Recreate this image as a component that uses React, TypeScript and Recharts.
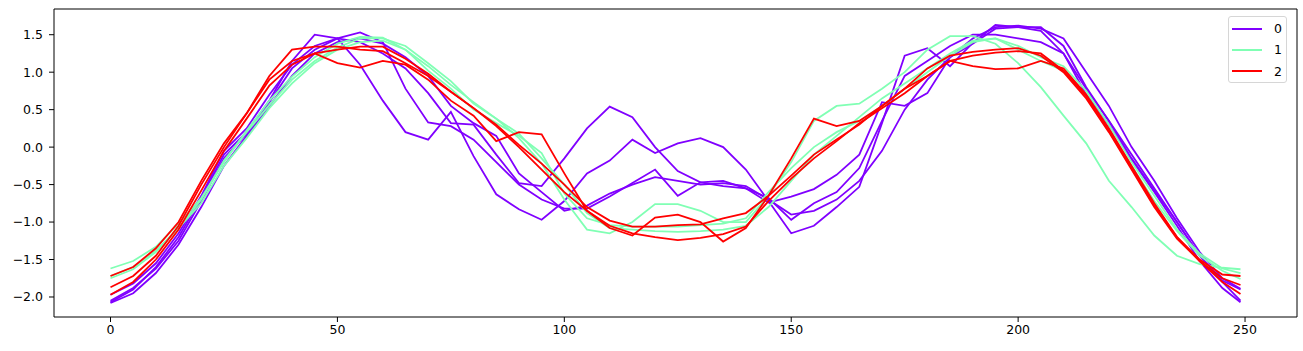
import { LineChart, Line, XAxis, YAxis } from 'recharts';

// sample positions along the series (read every 5 steps off the reference)
const xs = [
  0, 5, 10, 15, 20, 25, 30, 35, 40, 45, 50, 55, 60, 65, 70, 75, 80, 85, 90, 95,
  100, 105, 110, 115, 120, 125, 130, 135, 140, 145, 150, 155, 160, 165, 170, 175, 180, 185, 190, 195,
  200, 205, 210, 215, 220, 225, 230, 235, 240, 245, 249,
];

// class 0 (purple)
const purpleA = [
  -2.07, -1.9, -1.6, -1.2, -0.68, -0.1, 0.2, 0.62, 1.15, 1.5, 1.45, 1.1, 0.62, 0.2, 0.1, 0.47, -0.12, -0.63, -0.83, -0.97,
  -0.72, -0.35, -0.18, 0.1, -0.08, 0.05, 0.12, 0.0, -0.3, -0.72, -1.15, -1.05, -0.8, -0.53, 0.32, 1.22, 1.32, 1.08, 1.39, 1.63,
  1.6, 1.55, 1.25, 0.7, 0.3, -0.17, -0.6, -1.05, -1.52, -1.88, -2.07,
];
const purpleB = [
  -2.05, -1.88, -1.62, -1.25, -0.72, -0.15, 0.18, 0.6, 1.05, 1.3, 1.45, 1.53, 1.4, 0.78, 0.33, 0.28, 0.1, -0.2, -0.5, -0.7,
  -0.82, -0.82, -0.66, -0.48, -0.3, -0.65, -0.47, -0.52, -0.55, -0.68, -0.97, -0.75, -0.6, -0.28, 0.35, 0.95, 1.15, 1.35, 1.5, 1.5,
  1.45, 1.4, 1.25, 0.78, 0.35, -0.1, -0.55, -1.0, -1.45, -1.8, -2.05,
];
const purpleC = [
  -1.97, -1.82, -1.55, -1.15, -0.65, -0.05, 0.25, 0.7, 1.1, 1.35, 1.45, 1.4, 1.25, 1.05, 0.72, 0.32, 0.3, -0.1, -0.48, -0.52,
  -0.15, 0.25, 0.54, 0.4, 0.0, -0.32, -0.47, -0.45, -0.55, -0.74, -0.66, -0.56, -0.37, -0.1, 0.6, 0.55, 0.72, 1.2, 1.38, 1.58,
  1.6, 1.6, 1.35, 0.8, 0.35, -0.15, -0.58, -1.0, -1.45, -1.78, -1.9,
];
const purpleD = [
  -2.08, -1.95, -1.68, -1.3, -0.8, -0.25, 0.15, 0.55, 0.95, 1.25, 1.4, 1.45, 1.38, 1.2, 0.95, 0.55, 0.32, 0.15, -0.35, -0.6,
  -0.85, -0.78, -0.62, -0.5, -0.4, -0.45, -0.5, -0.48, -0.52, -0.7, -0.9, -0.85, -0.7, -0.45, -0.05, 0.5, 0.9, 1.2, 1.45, 1.6,
  1.62, 1.58, 1.45, 1.0, 0.55, 0.0, -0.45, -0.95, -1.4, -1.75, -1.89,
];

// class 1 (green)
const greenA = [
  -1.62, -1.52, -1.33, -1.02, -0.68, -0.2, 0.22, 0.62, 0.94, 1.2, 1.38, 1.47, 1.46, 1.3, 1.08, 0.83, 0.6, 0.38, 0.12, -0.22,
  -0.7, -1.1, -1.15, -1.0, -0.76, -0.76, -0.85, -1.0, -1.0, -0.65, -0.2, 0.35, 0.55, 0.58, 0.78, 1.0, 1.3, 1.48, 1.48, 1.38,
  1.12, 0.8, 0.42, 0.05, -0.45, -0.8, -1.18, -1.45, -1.56, -1.61, -1.63,
];
const greenB = [
  -1.72, -1.6, -1.38, -1.08, -0.75, -0.25, 0.12, 0.52, 0.85, 1.12, 1.3, 1.4, 1.42, 1.3, 1.02, 0.78, 0.5, 0.32, 0.15, -0.08,
  -0.62, -0.95, -1.04, -1.06, -1.06, -1.06, -1.04, -1.02, -0.95, -0.6, -0.28, 0.0, 0.2, 0.35, 0.55, 0.78, 1.0, 1.22, 1.4, 1.45,
  1.35, 1.2, 1.08, 0.75, 0.3, -0.2, -0.65, -1.1, -1.42, -1.62, -1.68,
];
const greenC = [
  -1.75, -1.63, -1.4, -1.08, -0.7, -0.18, 0.2, 0.56, 0.9, 1.15, 1.33, 1.45, 1.45, 1.35, 1.12, 0.88, 0.58, 0.38, 0.18, -0.15,
  -0.5, -0.88, -1.08, -1.1, -1.12, -1.13, -1.12, -1.1, -1.05, -0.8, -0.45, -0.1, 0.15, 0.4, 0.65, 0.85, 1.05, 1.25, 1.42, 1.45,
  1.3, 1.15, 1.02, 0.7, 0.25, -0.25, -0.72, -1.12, -1.45, -1.65, -1.76,
];

// class 2 (red)
const redA = [
  -1.72, -1.6, -1.35, -1.0, -0.45, 0.05, 0.45, 0.9, 1.15, 1.25, 1.12, 1.06, 1.15, 1.1, 0.9, 0.62, 0.42, 0.08, 0.2, 0.17,
  -0.35, -0.85, -1.08, -1.18, -0.94, -0.9, -1.0, -1.26, -1.08, -0.65, -0.15, 0.38, 0.28, 0.35, 0.55, 0.78, 0.95, 1.15, 1.08, 1.04,
  1.05, 1.15, 1.05, 0.7, 0.25, -0.25, -0.75, -1.2, -1.5, -1.7, -1.72,
];
const redB = [
  -1.87, -1.72, -1.45, -1.05, -0.5, 0.0, 0.45, 0.95, 1.3, 1.34, 1.34, 1.3, 1.28, 1.12, 0.95, 0.74, 0.52, 0.3, 0.03, -0.22,
  -0.5, -0.8, -0.98, -1.06, -1.06, -1.04, -1.03, -0.95, -0.88, -0.65, -0.38, -0.1, 0.1, 0.3, 0.55, 0.78, 1.05, 1.22, 1.27, 1.3,
  1.32, 1.22, 1.0, 0.65, 0.2, -0.3, -0.8, -1.22, -1.52, -1.75, -1.84,
];
const redC = [
  -1.97, -1.8, -1.5, -1.1, -0.58, -0.05, 0.38, 0.82, 1.1, 1.25, 1.3, 1.34, 1.34, 1.18, 0.98, 0.74, 0.52, 0.28, 0.0, -0.3,
  -0.6, -0.85, -1.05, -1.15, -1.2, -1.24, -1.21, -1.16, -1.06, -0.72, -0.42, -0.15, 0.08, 0.32, 0.52, 0.72, 0.95, 1.15, 1.22, 1.26,
  1.28, 1.25, 1.02, 0.68, 0.22, -0.28, -0.78, -1.2, -1.52, -1.8, -1.96,
];

const classLabels = ['0', '1', '2'];
const classColors = ['#8000ff', '#80ffb4', '#ff0000'];
const xTicks = [0, 50, 100, 150, 200, 250];
const yTicks = [-2, -1.5, -1, -0.5, 0, 0.5, 1, 1.5];

const series = [
  { key: 'p0', cls: 0, values: purpleA },
  { key: 'p1', cls: 0, values: purpleB },
  { key: 'p2', cls: 0, values: purpleC },
  { key: 'p3', cls: 0, values: purpleD },
  { key: 'g0', cls: 1, values: greenA },
  { key: 'g1', cls: 1, values: greenB },
  { key: 'g2', cls: 1, values: greenC },
  { key: 'r0', cls: 2, values: redA },
  { key: 'r1', cls: 2, values: redB },
  { key: 'r2', cls: 2, values: redC },
];

const data = xs.map((x, i) => {
  const row: Record<string, number> = { x };
  series.forEach((s) => {
    row[s.key] = s.values[i];
  });
  return row;
});

const font = { fontFamily: 'DejaVu Sans', fontSize: 12.5, fill: '#000' };
const fmt = (v: number) => v.toFixed(1).replace('-', '\u2212');

export default function App() {
  return (
    <div style={{ position: 'absolute', left: 0, top: 0, width: 1303, height: 351, background: '#fff' }}>
      <LineChart width={1303} height={351} data={data} margin={{ top: 8, right: 5, bottom: 0, left: 0 }}>
        <XAxis
          dataKey="x"
          type="number"
          domain={[-12.45, 261.45]}
          ticks={xTicks}
          allowDataOverflow
          height={34}
          tick={font}
          tickSize={5}
          tickMargin={3}
          stroke="#000"
        />
        {/* top and right axes only draw the frame */}
        <XAxis
          xAxisId="top"
          dataKey="x"
          type="number"
          orientation="top"
          domain={[-12.45, 261.45]}
          height={1}
          tick={false}
          tickLine={false}
          stroke="#000"
        />
        <YAxis
          type="number"
          domain={[-2.267, 1.843]}
          ticks={yTicks}
          allowDataOverflow
          width={54}
          tick={font}
          tickSize={5}
          tickMargin={6}
          tickFormatter={fmt}
          stroke="#000"
        />
        <YAxis
          yAxisId="right"
          type="number"
          orientation="right"
          domain={[-2.267, 1.843]}
          width={1}
          tick={false}
          tickLine={false}
          stroke="#000"
        />
        {series.map((s) => (
          <Line
            key={s.key}
            dataKey={s.key}
            type="linear"
            stroke={classColors[s.cls]}
            strokeWidth={1.8}
            dot={false}
            activeDot={false}
            isAnimationActive={false}
          />
        ))}
      </LineChart>

      {/* legend, matplotlib style, upper right */}
      <div
        style={{
          position: 'absolute',
          left: 1228,
          top: 16,
          width: 57,
          height: 65,
          border: '1px solid #d6d6d6',
          borderRadius: 3,
          background: 'rgba(255,255,255,0.8)',
          fontFamily: 'DejaVu Sans',
          fontSize: 12.5,
          color: '#000',
        }}
      >
        {classLabels.map((label, i) => (
          <div
            key={label}
            style={{ position: 'absolute', left: 3, top: 3 + i * 21.3, height: 17, display: 'flex', alignItems: 'center' }}
          >
            <span style={{ display: 'inline-block', width: 30, height: 2, background: classColors[i] }} />
            <span style={{ marginLeft: 12 }}>{label}</span>
          </div>
        ))}
      </div>
    </div>
  );
}
